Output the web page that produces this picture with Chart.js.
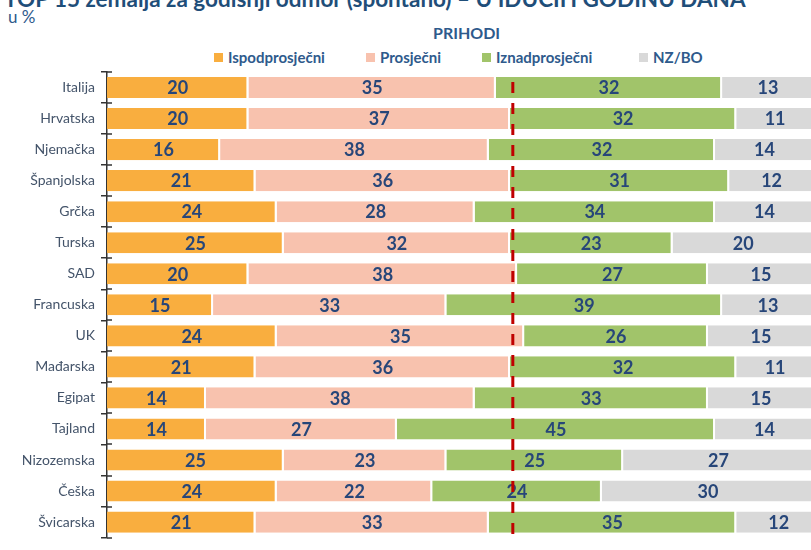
<!DOCTYPE html>
<html>
<head>
<meta charset="utf-8">
<script src="https://cdn.jsdelivr.net/npm/chart.js@4"></script>
<style>
  html, body { margin: 0; padding: 0; background: #fff; overflow: hidden; }
  body { width: 811px; height: 550px; position: relative; font-family: Lato, "Open Sans", sans-serif; }
  #naslov { position: absolute; left: 4px; top: -15px; font-size: 22.5px; font-weight: bold; color: #1F4E79; white-space: nowrap; }
  #jedinica { position: absolute; left: 8px; top: 6px; font-size: 17px; color: #2E5A8C; }
  #podnaslov { position: absolute; left: 433px; top: 23px; font-size: 16px; font-weight: bold; color: #2E5A8C; }
  #legenda { position: absolute; left: 0; top: 48px; width: 811px; height: 20px; font-size: 15px; font-weight: bold; color: #2E5A8C; }
  #legenda span.item { position: absolute; top: 0; display: flex; align-items: center; white-space: nowrap; }
  #legenda span.box { width: 9px; height: 9px; margin-right: 5px; display: inline-block; }
  #okvir { position: absolute; left: 0; top: 0; width: 816px; height: 552px; }
</style>
</head>
<body>
<div id="naslov">TOP 15 zemalja za godišnji odmor (spontano) – U IDUĆIH GODINU DANA</div>
<div id="jedinica">u %</div>
<div id="podnaslov">PRIHODI</div>
<div id="legenda"></div>
<div id="okvir"><canvas id="grafikon"></canvas></div>

<script>
// zemlje i udjeli po razinama prihoda (u %)
const zemlje = ['Italija', 'Hrvatska', 'Njemačka', 'Španjolska', 'Grčka', 'Turska', 'SAD', 'Francuska',
  'UK', 'Mađarska', 'Egipat', 'Tajland', 'Nizozemska', 'Češka', 'Švicarska'];
const ispodprosjecni = [20, 20, 16, 21, 24, 25, 20, 15, 24, 21, 14, 14, 25, 24, 21];
const prosjecni      = [35, 37, 38, 36, 28, 32, 38, 33, 35, 36, 38, 27, 23, 22, 33];
const iznadprosjecni = [32, 32, 32, 31, 34, 23, 27, 39, 26, 32, 33, 45, 25, 24, 35];
const nzbo           = [13, 11, 14, 12, 14, 20, 15, 13, 15, 11, 15, 14, 27, 30, 12];
const nazivi = ['Ispodprosječni', 'Prosječni', 'Iznadprosječni', 'NZ/BO'];
const boje = ['#F9AE3F', '#F8C2AE', '#A1C46A', '#D9D9D9'];
const crtaVrijednost = 57.4;

// legenda iznad grafikona
const legX = [214, 366, 482, 639];
const leg = document.getElementById('legenda');
nazivi.forEach((n, i) => {
  leg.innerHTML += `<span class="item" style="left:${legX[i]}px"><span class="box" style="background:${boje[i]}"></span>${n}</span>`;
});

// brojevi unutar segmenata
const oznake = {
  id: 'oznake',
  afterDatasetsDraw(chart) {
    const ctx = chart.ctx;
    ctx.save();
    ctx.font = 'bold 18px Lato, sans-serif';
    ctx.fillStyle = '#274679';
    ctx.textAlign = 'center';
    ctx.textBaseline = 'middle';
    chart.data.datasets.forEach((ds, di) => {
      chart.getDatasetMeta(di).data.forEach((bar, i) => {
        const x = (bar.x + bar.base) / 2;
        ctx.fillText(ds.data[i], x, bar.y + 1);
      });
    });
    ctx.restore();
  }
};

// crvena isprekidana okomita crta + kratke crtice osi
const crta = {
  id: 'crta',
  afterDraw(chart) {
    const ctx = chart.ctx;
    const x = chart.scales.x.getPixelForValue(crtaVrijednost);
    const y = chart.scales.y;
    const left = chart.chartArea.left;
    ctx.save();
    ctx.strokeStyle = '#333';
    ctx.lineWidth = 1.5;
    for (let i = 0; i <= zemlje.length; i++) {
      const yy = Math.round(y.getPixelForValue(i - 0.5));
      ctx.beginPath();
      ctx.moveTo(left, yy);
      ctx.lineTo(left + 5, yy);
      ctx.stroke();
    }
    ctx.strokeStyle = '#C00000';
    ctx.lineWidth = 3;
    ctx.setLineDash([11, 10]);
    ctx.beginPath();
    ctx.moveTo(x, chart.chartArea.top + 10);
    ctx.lineTo(x, chart.chartArea.bottom);
    ctx.stroke();
    ctx.restore();
  }
};

const serije = [ispodprosjecni, prosjecni, iznadprosjecni, nzbo];

new Chart(document.getElementById('grafikon'), {
  type: 'bar',
  data: {
    labels: zemlje,
    datasets: serije.map((s, i) => ({
      label: nazivi[i],
      data: s,
      backgroundColor: boje[i],
      borderColor: '#ffffff',
      borderWidth: { top: 0, bottom: 0, left: 0, right: 2 },
      borderSkipped: false,
      barPercentage: 0.68,
      categoryPercentage: 1
    }))
  },
  options: {
    indexAxis: 'y',
    responsive: true,
    maintainAspectRatio: false,
    animation: false,
    layout: { padding: { top: 72, right: 2, bottom: 1, left: 0 } },
    plugins: { legend: { display: false }, tooltip: { enabled: false } },
    scales: {
      x: {
        stacked: true,
        min: 0,
        max: 100,
        display: false
      },
      y: {
        stacked: true,
        afterFit(scale) { scale.width = 107; },
        border: { display: true, color: '#333', width: 1.5 },
        grid: { drawOnChartArea: false, tickLength: 6, color: '#333', lineWidth: 1.5 },
        ticks: { color: '#44546A', font: { family: 'Lato', size: 14 }, padding: 6 }
      }
    }
  },
  plugins: [oznake, crta]
});
</script>
</body>
</html>
